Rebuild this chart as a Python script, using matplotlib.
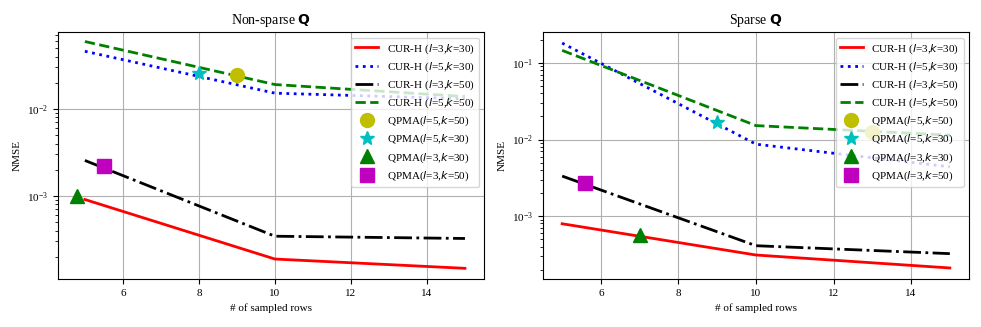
import numpy as np
import matplotlib
matplotlib.use('Agg')
import matplotlib.pyplot as plt

plt.rcParams['font.family'] = ['Liberation Serif', 'DejaVu Serif']
plt.rcParams['font.size'] = 8

# sampled rows
rows = [5, 10, 15]

# non-sparse Q
ns_cur_l3_k30 = [9.1e-4, 1.88e-4, 1.47e-4]
ns_cur_l5_k30 = [0.0461, 0.0152, 0.0131]
ns_cur_l3_k50 = [2.56e-3, 3.44e-4, 3.24e-4]
ns_cur_l5_k50 = [0.0597, 0.0191, 0.0139]
ns_qpma_x = [9, 8, 4.8, 5.5]
ns_qpma_y = [0.0245, 0.0261, 1.0e-3, 2.21e-3]

# sparse Q
sp_cur_l3_k30 = [7.94e-4, 3.10e-4, 2.10e-4]
sp_cur_l5_k30 = [0.182, 8.69e-3, 4.40e-3]
sp_cur_l3_k50 = [3.33e-3, 4.10e-4, 3.23e-4]
sp_cur_l5_k50 = [0.146, 0.0152, 0.0114]
sp_qpma_x = [13, 9, 7, 5.6]
sp_qpma_y = [0.0126, 0.0168, 5.7e-4, 2.69e-3]

cur_labels = ['CUR-H ($l$=3,$k$=30)', 'CUR-H ($l$=5,$k$=30)',
              'CUR-H ($l$=3,$k$=50)', 'CUR-H ($l$=5,$k$=50)']
qpma_labels = ['QPMA($l$=5,$k$=50)', 'QPMA($l$=5,$k$=30)',
               'QPMA($l$=3,$k$=30)', 'QPMA($l$=3,$k$=50)']
line_styles = [('r', '-'), ('b', ':'), ('k', '-.'), ('g', '--')]
marker_styles = [('y', 'o'), ('c', '*'), ('g', '^'), ('m', 's')]

fig, axes = plt.subplots(1, 2, figsize=(9.81, 3.27), dpi=100)
fig.subplots_adjust(left=0.059, right=0.988, bottom=0.147, top=0.902, wspace=0.137)

panels = [
    (axes[0], 'Non-sparse $\\mathbf{Q}$',
     [ns_cur_l3_k30, ns_cur_l5_k30, ns_cur_l3_k50, ns_cur_l5_k50], ns_qpma_x, ns_qpma_y),
    (axes[1], 'Sparse $\\mathbf{Q}$',
     [sp_cur_l3_k30, sp_cur_l5_k30, sp_cur_l3_k50, sp_cur_l5_k50], sp_qpma_x, sp_qpma_y),
]

for ax, title, curves, qx, qy in panels:
    for vals, (c, ls), lab in zip(curves, line_styles, cur_labels):
        ax.plot(rows, vals, color=c, linestyle=ls, linewidth=2, label=lab)
    for x, y, (c, m), lab in zip(qx, qy, marker_styles, qpma_labels):
        ax.plot([x], [y], color=c, marker=m, markersize=10, linestyle='none', label=lab)
    ax.set_yscale('log')
    ax.grid(True)
    ax.set_title(title, fontsize=10)
    ax.set_xlabel('# of sampled rows')
    ax.set_ylabel('NMSE')
    ax.legend(loc='upper right', fontsize=8, labelspacing=0.42)

axes[0].set_ylim(1.11e-4, 0.0767)
axes[1].set_ylim(1.51e-4, 0.2535)
axes[1].set_xlim(4.5, 15.5)

fig.savefig('out.png', dpi=100)
